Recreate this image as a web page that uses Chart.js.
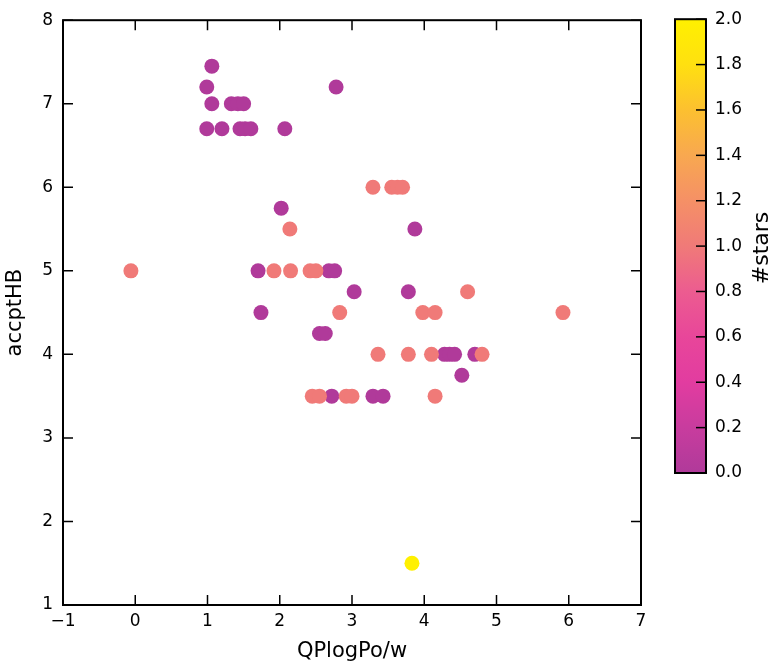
<!DOCTYPE html>
<html>
<head>
<meta charset="utf-8">
<script src="https://cdn.jsdelivr.net/npm/chart.js@4"></script>
<style>
  body { margin: 0; background: #fff; }
  #wrap { position: relative; width: 776px; height: 668px; }
  #wrap canvas { position: absolute; left: 0; top: 0; }
  #cbar { pointer-events: none; }
</style>
</head>
<body>
<div id="wrap">
  <canvas id="main" width="776" height="668"></canvas>
  <canvas id="cbar" width="776" height="668"></canvas>
</div>
<script>
// QPlogPo/w values
const qplog = [
  1.06, 0.99, 1.06, 1.33, 1.42, 1.5, 0.99, 1.2, 1.45, 1.52, 1.6, 2.07, 2.78,
  2.02, 3.87, 1.70, 2.68, 2.76, 3.03, 3.78, 1.74, 2.55, 2.63,
  4.28, 4.35, 4.42, 4.70, 4.52, 2.72, 3.29, 3.43,
  -0.06, 1.92, 2.15, 2.42, 2.5, 2.14, 3.29, 3.55, 3.63, 3.7,
  2.83, 3.98, 4.15, 5.92, 4.6, 3.36, 3.78, 4.1, 4.8,
  2.45, 2.55, 2.92, 3.0, 4.15,
  3.83
];
// accptHB values
const accpt = [
  7.45, 7.2, 7.0, 7.0, 7.0, 7.0, 6.7, 6.7, 6.7, 6.7, 6.7, 6.7, 7.2,
  5.75, 5.5, 5.0, 5.0, 5.0, 4.75, 4.75, 4.5, 4.25, 4.25,
  4.0, 4.0, 4.0, 4.0, 3.75, 3.5, 3.5, 3.5,
  5.0, 5.0, 5.0, 5.0, 5.0, 5.5, 6.0, 6.0, 6.0, 6.0,
  4.5, 4.5, 4.5, 4.5, 4.75, 4.0, 4.0, 4.0, 4.0,
  3.5, 3.5, 3.5, 3.5, 3.5,
  1.5
];
// #stars (colour value)
const stars = [
  0, 0, 0, 0, 0, 0, 0, 0, 0, 0, 0, 0, 0,
  0, 0, 0, 0, 0, 0, 0, 0, 0, 0,
  0, 0, 0, 0, 0, 0, 0, 0,
  1, 1, 1, 1, 1, 1, 1, 1, 1, 1,
  1, 1, 1, 1, 1, 1, 1, 1, 1,
  1, 1, 1, 1, 1,
  2
];

const starTicks = [0, 0.2, 0.4, 0.6, 0.8, 1.0, 1.2, 1.4, 1.6, 1.8, 2.0];

// colour map, 0..2
const cmapStops = [
  [0.0, [176, 58, 154]],
  [0.2, [200, 60, 158]],
  [0.4, [226, 60, 160]],
  [0.6, [232, 70, 154]],
  [0.8, [236, 92, 144]],
  [1.0, [240, 122, 120]],
  [1.2, [245, 144, 102]],
  [1.4, [248, 168, 80]],
  [1.6, [252, 192, 48]],
  [1.8, [255, 224, 16]],
  [2.0, [255, 240, 0]]
];

function cmap(v) {
  for (let i = 1; i < cmapStops.length; i++) {
    const [v1, c1] = cmapStops[i];
    const [v0, c0] = cmapStops[i - 1];
    if (v <= v1) {
      const t = (v - v0) / (v1 - v0);
      const c = c0.map((a, k) => Math.round(a + (c1[k] - a) * t));
      return `rgb(${c[0]},${c[1]},${c[2]})`;
    }
  }
  const c = cmapStops[cmapStops.length - 1][1];
  return `rgb(${c[0]},${c[1]},${c[2]})`;
}

const FONT = 'DejaVu Sans';
Chart.defaults.font.family = FONT;
Chart.defaults.color = '#000';

// frame and inward tick marks, matplotlib style
const frameTicks = {
  id: 'frameTicks',
  afterDraw(chart, args, opts) {
    const { ctx, chartArea: a } = chart;
    ctx.save();
    ctx.strokeStyle = '#000';
    ctx.lineWidth = 1.5;
    const len = opts.len;
    (opts.axes || []).forEach(id => {
      const s = chart.scales[id];
      s.ticks.forEach(t => {
        const p = s.getPixelForValue(t.value);
        ctx.beginPath();
        if (s.isHorizontal()) {
          ctx.moveTo(p, a.bottom); ctx.lineTo(p, a.bottom - len);
          if (opts.both) { ctx.moveTo(p, a.top); ctx.lineTo(p, a.top + len); }
        } else {
          if (opts.side === 'right') {
            ctx.moveTo(a.right, p); ctx.lineTo(a.right - len, p);
          } else {
            ctx.moveTo(a.left, p); ctx.lineTo(a.left + len, p);
            if (opts.both) { ctx.moveTo(a.right, p); ctx.lineTo(a.right - len, p); }
          }
        }
        ctx.stroke();
      });
    });
    ctx.lineWidth = 2;
    ctx.strokeRect(a.left, a.top, a.right - a.left, a.bottom - a.top);
    ctx.restore();
  }
};

const points = qplog.map((x, i) => ({ x, y: accpt[i] }));

new Chart(document.getElementById('main'), {
  type: 'scatter',
  data: {
    datasets: [{
      data: points,
      pointRadius: 7.5,
      pointHoverRadius: 7.5,
      pointBorderWidth: 0,
      pointBackgroundColor: stars.map(cmap)
    }]
  },
  options: {
    responsive: false,
    animation: false,
    devicePixelRatio: 1,
    layout: { padding: { left: 0, right: 135, top: 8, bottom: 0 } },
    plugins: {
      legend: { display: false },
      tooltip: { enabled: false },
      frameTicks: { axes: ['x', 'y'], len: 10, both: true }
    },
    scales: {
      x: {
        type: 'linear', min: -1, max: 7,
        grid: { display: false, drawTicks: false },
        border: { display: false },
        ticks: {
          stepSize: 1, padding: 6,
          font: { size: 17 },
          callback: v => v < 0 ? '\u2212' + Math.abs(v) : String(v)
        },
        title: { display: true, text: 'QPlogPo/w', font: { size: 21 }, padding: { top: 2, bottom: 4 } },
        afterFit: s => { s.height = 63; }
      },
      y: {
        type: 'linear', min: 1, max: 8,
        grid: { display: false, drawTicks: false },
        border: { display: false },
        ticks: { stepSize: 1, padding: 10, font: { size: 17 } },
        title: { display: true, text: 'accptHB', font: { size: 21 }, padding: { top: 3, bottom: 4 } },
        afterFit: s => { s.width = 63; }
      }
    }
  },
  plugins: [frameTicks]
});

// colour bar
const cbarFill = {
  id: 'cbarFill',
  beforeDatasetsDraw(chart) {
    const { ctx, chartArea: a } = chart;
    const s = chart.scales.y;
    const g = ctx.createLinearGradient(0, s.getPixelForValue(0), 0, s.getPixelForValue(2));
    cmapStops.forEach(([v]) => g.addColorStop(v / 2, cmap(v)));
    ctx.save();
    ctx.fillStyle = g;
    ctx.fillRect(a.left, a.top, a.right - a.left, a.bottom - a.top);
    // label
    ctx.fillStyle = '#000';
    ctx.font = '22px ' + FONT;
    ctx.textAlign = 'center';
    ctx.textBaseline = 'middle';
    ctx.translate(762, 248);
    ctx.rotate(-Math.PI / 2);
    ctx.fillText('#stars', 0, 0);
    ctx.restore();
  }
};

new Chart(document.getElementById('cbar'), {
  type: 'scatter',
  data: { datasets: [{ data: [] }] },
  options: {
    responsive: false,
    animation: false,
    devicePixelRatio: 1,
    layout: { padding: { left: 675, right: 0, top: 7, bottom: 195 } },
    plugins: {
      legend: { display: false },
      tooltip: { enabled: false },
      frameTicks: { axes: ['y'], len: 10, side: 'right' }
    },
    scales: {
      x: { display: false, min: 0, max: 1 },
      y: {
        position: 'right', min: 0, max: 2,
        grid: { display: false, drawTicks: false },
        border: { display: false },
        afterBuildTicks: s => { s.ticks = starTicks.map(v => ({ value: v })); },
        ticks: { padding: 9, font: { size: 17 }, callback: v => Number(v).toFixed(1) },
        afterFit: s => { s.width = 70; }
      }
    }
  },
  plugins: [frameTicks, cbarFill]
});
</script>
</body>
</html>
